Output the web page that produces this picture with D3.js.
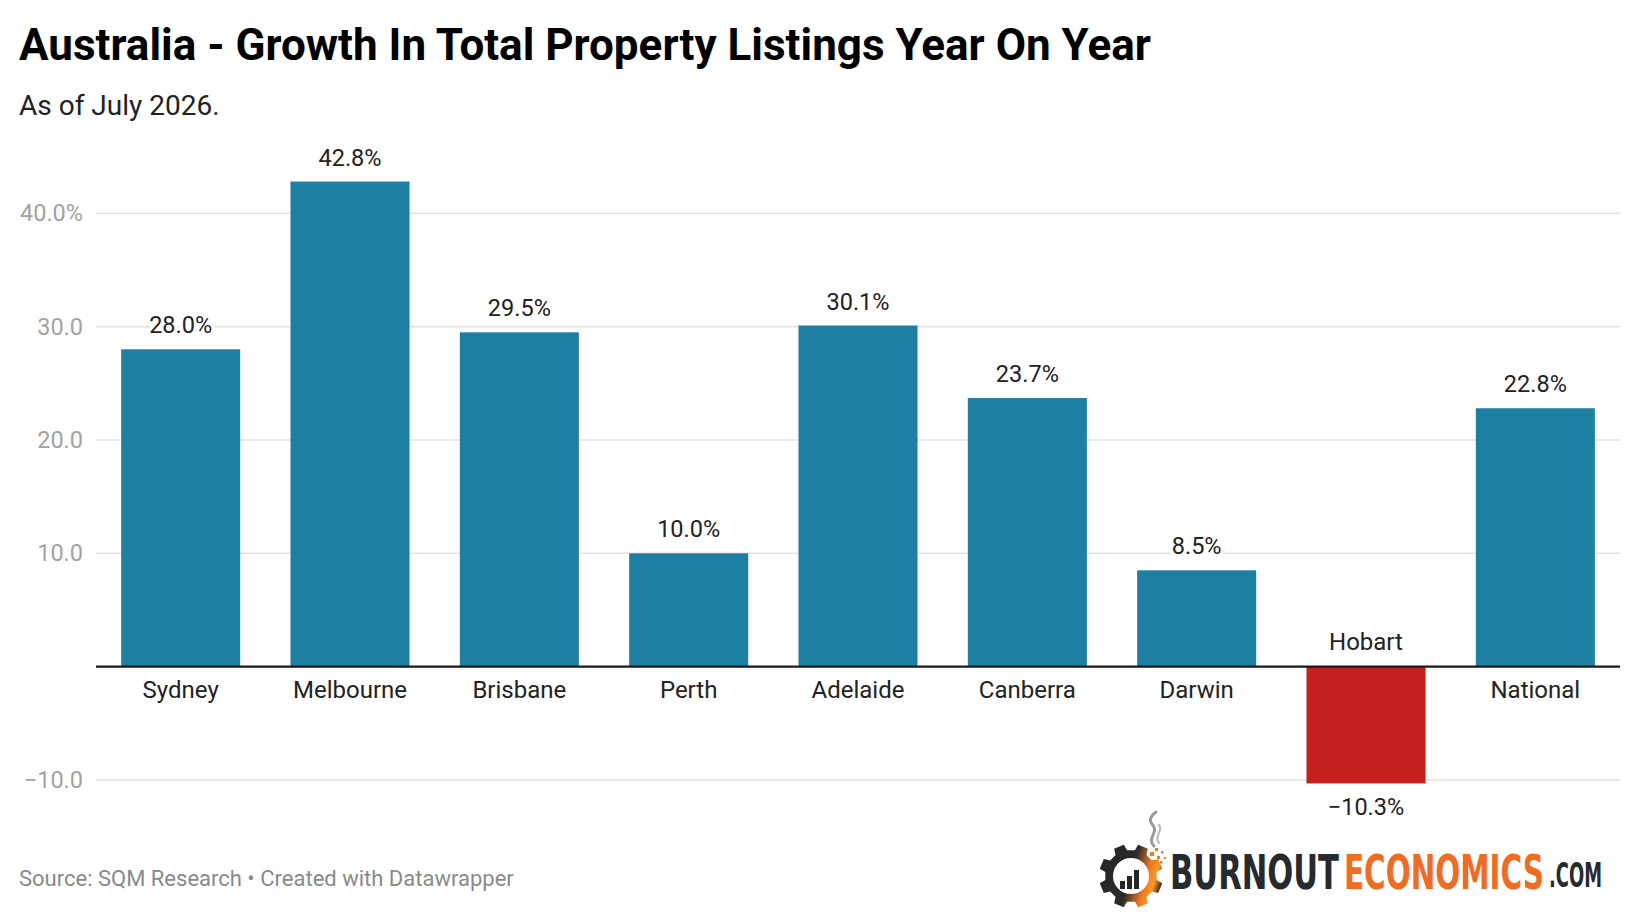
<!DOCTYPE html>
<html>
<head>
<meta charset="utf-8">
<script src="https://cdn.jsdelivr.net/npm/d3@7"></script>
<style>
  html,body{margin:0;padding:0;background:#fff}
  svg{display:block}
</style>
</head>
<body>
<div id="chart"></div>
<script>
// Australia - growth in total property listings, year on year (SQM Research)
var cities=['Sydney','Melbourne','Brisbane','Perth','Adelaide','Canberra','Darwin','Hobart','National'];
var growth=[28.0,42.8,29.5,10.0,30.1,23.7,8.5,-10.3,22.8];
var yTicks=[-10,0,10,20,30,40];

var W=1640,H=912;
var F='Roboto,"Noto Sans",sans-serif';
var C={bar:'#1d80a2',neg:'#c71e1e',grid:'#e3e3e3',tick:'#a3a3a3',text:'#222',src:'#8a8a8a'};

var svg=d3.select('#chart').append('svg').attr('width',W).attr('height',H).attr('viewBox','0 0 '+W+' '+H);

// titles
svg.append('text').attr('x',19).attr('y',60).attr('font-family',F).attr('font-size',44).attr('font-weight',700).attr('fill','#000')
  .text('Australia - Growth In Total Property Listings Year On Year');
svg.append('text').attr('x',19).attr('y',115).attr('font-family',F).attr('font-size',28).attr('fill',C.text)
  .text('As of July 2026.');

// scales
var x=d3.scaleBand().domain(cities).range([96,1620]).paddingInner(0.297).paddingOuter(0.1485);
var y=d3.scaleLinear().domain([-10,40]).range([780,213.3]);
var fmt=d3.format('.1f');

// gridlines + tick labels
var gt=svg.append('g');
gt.selectAll('line').data(yTicks.filter(function(d){return d!==0})).enter().append('line')
  .attr('x1',96).attr('x2',1620).attr('y1',function(d){return y(d)}).attr('y2',function(d){return y(d)})
  .attr('stroke',C.grid).attr('stroke-width',1.6);
gt.selectAll('text').data(yTicks.filter(function(d){return d!==0})).enter().append('text')
  .attr('x',83).attr('y',function(d){return y(d)+8}).attr('text-anchor','end')
  .attr('font-family',F).attr('font-size',23.5).attr('fill',C.tick)
  .text(function(d){return fmt(d)+(d===40?'%':'')});

// bars
var data=cities.map(function(c,i){return {city:c,v:growth[i]}});
svg.append('g').selectAll('rect').data(data).enter().append('rect')
  .attr('x',function(d){return x(d.city)}).attr('width',x.bandwidth())
  .attr('y',function(d){return y(Math.max(0,d.v))})
  .attr('height',function(d){return Math.abs(y(d.v)-y(0))})
  .attr('fill',function(d){return d.v<0?C.neg:C.bar});

// zero baseline
svg.append('line').attr('x1',96).attr('x2',1620).attr('y1',y(0)).attr('y2',y(0)).attr('stroke','#1a1a1a').attr('stroke-width',2.3);

// value labels (white halo over gridlines)
svg.append('g').selectAll('text').data(data).enter().append('text')
  .attr('x',function(d){return x(d.city)+x.bandwidth()/2})
  .attr('y',function(d){return d.v>=0?y(d.v)-16:y(d.v)+32})
  .attr('text-anchor','middle').attr('font-family',F).attr('font-size',23.5).attr('fill',C.text)
  .attr('stroke','#fff').attr('stroke-width',7).attr('paint-order','stroke').attr('stroke-linejoin','round')
  .text(function(d){return fmt(d.v)+'%'});

// category labels
svg.append('g').selectAll('text').data(data).enter().append('text')
  .attr('x',function(d){return x(d.city)+x.bandwidth()/2})
  .attr('y',function(d){return d.v>=0?y(0)+31.5:y(0)-16.5})
  .attr('text-anchor','middle').attr('font-family',F).attr('font-size',24).attr('fill',C.text)
  .text(function(d){return d.city});

// footer
svg.append('text').attr('x',19).attr('y',886).attr('font-family',F).attr('font-size',22).attr('fill',C.src)
  .text('Source: SQM Research \u2022 Created with Datawrapper');

// --- logo ---
var lg=svg.append('g');
var defs=svg.append('defs');
var gr=defs.append('linearGradient').attr('id','gearg').attr('x1','0').attr('y1','0.3').attr('x2','1').attr('y2','0.6');
gr.append('stop').attr('offset','0').attr('stop-color','#262626');
gr.append('stop').attr('offset','0.5').attr('stop-color','#2a2a2a');
gr.append('stop').attr('offset','0.75').attr('stop-color','#f0781e');
gr.append('stop').attr('offset','0.88').attr('stop-color','#f89a28');
gr.append('stop').attr('offset','1').attr('stop-color','#3a2a22');

var gx=1131,gy=876,R=32,r=26,n=8;
var pts=[];
for(var i=0;i<n;i++){
  var a=i*2*Math.PI/n+Math.PI/8;
  var hw=Math.PI/n*0.42, hr=Math.PI/n*0.62;
  pts.push([a-hr,r],[a-hw,R],[a+hw,R],[a+hr,r]);
}
var gp='M'+pts.map(function(p){return (gx+p[1]*Math.cos(p[0])).toFixed(1)+','+(gy+p[1]*Math.sin(p[0])).toFixed(1)}).join('L')+'Z';
lg.append('path').attr('d',gp).attr('fill','url(#gearg)');
lg.append('circle').attr('cx',gx).attr('cy',gy).attr('r',18).attr('fill','#fff');
[[1120,8],[1127,13],[1134,19]].forEach(function(b){
  lg.append('rect').attr('x',b[0]).attr('y',889-b[1]).attr('width',5).attr('height',b[1]).attr('fill','#262626');
});
// sparks
[[1150,852,4],[1155,848,3],[1157,856,3],[1161,851,2.5],[1152,860,3],[1160,861,2.5],[1164,857,2]].forEach(function(s){
  lg.append('rect').attr('x',s[0]).attr('y',s[1]).attr('width',s[2]).attr('height',s[2]).attr('fill','#f47b20');
});
// smoke
lg.append('path').attr('d','M1154,846 C1146,838 1160,832 1152,824 C1148,820 1152,815 1156,812').attr('fill','none').attr('stroke','#9a9a9a').attr('stroke-width',3).attr('stroke-linecap','round');
lg.append('path').attr('d','M1159,843 C1153,836 1164,831 1159,825').attr('fill','none').attr('stroke','#bdbdbd').attr('stroke-width',2.2).attr('stroke-linecap','round');

// wordmark: each word squeezed horizontally to its width in the logo
var LF='"Liberation Sans Narrow","DejaVu Sans Condensed",Roboto,sans-serif';
function word(t,x0,y0,w,fs,col){
  var g=lg.append('g');
  var tx=g.append('text').attr('x',0).attr('y',0).attr('font-family',LF).attr('font-weight',700).attr('font-size',fs).attr('fill',col).text(t);
  var L=tx.node().getComputedTextLength()||w;
  g.attr('transform','translate('+x0+','+y0+') scale('+(w/L).toFixed(4)+',1)');
}
word('BURNOUT',1170,889,169,48,'#262a2e');
word('ECONOMICS',1344,889,200,48,'#f26b21');
word('.COM',1549,887,53,33,'#262a2e');
</script>
</body>
</html>
